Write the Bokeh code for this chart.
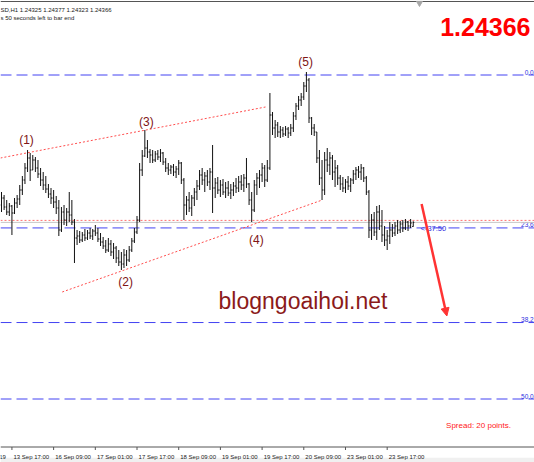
from bokeh.plotting import figure
from bokeh.models import ColumnDataSource, Range1d, Arrow, NormalHead
from bokeh.core.properties import value
from bokeh.embed import file_html
from bokeh.resources import INLINE

# ---------------- data (GBPUSD H1) ----------------
opens = [1.2454, 1.2461, 1.2452, 1.2447, 1.2453, 1.2446, 1.2456, 1.2460, 1.2469, 1.2479,
         1.2491, 1.2501, 1.2489, 1.2499, 1.2491, 1.2485, 1.2479, 1.2474, 1.2470, 1.2465,
         1.2461, 1.2457, 1.2451, 1.2429, 1.2447, 1.2439, 1.2447, 1.2444, 1.2437, 1.2421,
         1.2423, 1.2419, 1.2424, 1.2421, 1.2426, 1.2423, 1.2428, 1.2426, 1.2420, 1.2417,
         1.2413, 1.2409, 1.2415, 1.2407, 1.2411, 1.2401, 1.2397, 1.2395, 1.2404, 1.2399,
         1.2409, 1.2418, 1.2427, 1.2439, 1.2489, 1.2503, 1.2511, 1.2507, 1.2504, 1.2499,
         1.2505, 1.2502, 1.2506, 1.2497, 1.2491, 1.2489, 1.2492, 1.2487, 1.2490, 1.2496,
         1.2479, 1.2454, 1.2459, 1.2451, 1.2461, 1.2467, 1.2473, 1.2484, 1.2479, 1.2483,
         1.2477, 1.2487, 1.2471, 1.2476, 1.2469, 1.2474, 1.2467, 1.2471, 1.2466, 1.2469,
         1.2473, 1.2471, 1.2477, 1.2474, 1.2481, 1.2475, 1.2459, 1.2449, 1.2474, 1.2481,
         1.2484, 1.2491, 1.2479, 1.2491, 1.2544, 1.2531, 1.2534, 1.2527, 1.2529, 1.2525,
         1.2530, 1.2526, 1.2531, 1.2543, 1.2553, 1.2559, 1.2562, 1.2573, 1.2579, 1.2541,
         1.2531, 1.2527, 1.2501, 1.2481, 1.2469, 1.2499, 1.2494, 1.2501, 1.2487, 1.2491,
         1.2481, 1.2475, 1.2471, 1.2477, 1.2473, 1.2479, 1.2485, 1.2489, 1.2487, 1.2491,
         1.2481, 1.2467, 1.2429, 1.2439, 1.2427, 1.2447, 1.2433, 1.2424, 1.2419, 1.2423,
         1.2429, 1.2426, 1.2433, 1.2429, 1.2435, 1.2431, 1.2437, 1.2433, 1.24325]
highs = [1.2467, 1.2464, 1.2459, 1.2456, 1.2454, 1.2461, 1.2464, 1.2474, 1.2483, 1.2496,
         1.2509, 1.2506, 1.2504, 1.2502, 1.2499, 1.2491, 1.2487, 1.2483, 1.2475, 1.2471,
         1.2469, 1.2463, 1.2459, 1.2452, 1.2454, 1.2451, 1.2467, 1.2459, 1.2440, 1.2429,
         1.2428, 1.2427, 1.2430, 1.2429, 1.2431, 1.2430, 1.2434, 1.2431, 1.2426, 1.2422,
         1.2419, 1.2421, 1.2419, 1.2416, 1.2413, 1.2409, 1.2407, 1.2410, 1.2409, 1.2413,
         1.2421, 1.2431, 1.2443, 1.2496, 1.2509, 1.2529, 1.2519, 1.2510, 1.2509, 1.2508,
         1.2509, 1.2510, 1.2507, 1.2501, 1.2496, 1.2494, 1.2495, 1.2493, 1.2499, 1.2497,
         1.2481, 1.2463, 1.2467, 1.2464, 1.2471, 1.2479, 1.2489, 1.2491, 1.2487, 1.2489,
         1.2491, 1.2514, 1.2481, 1.2482, 1.2479, 1.2480, 1.2477, 1.2478, 1.2475, 1.2477,
         1.2481, 1.2483, 1.2484, 1.2485, 1.2501, 1.2476, 1.2467, 1.2479, 1.2486, 1.2489,
         1.2496, 1.2494, 1.2499, 1.2566, 1.2547, 1.2539, 1.2537, 1.2533, 1.2532, 1.2533,
         1.2532, 1.2535, 1.2547, 1.2556, 1.2563, 1.2566, 1.2577, 1.2587, 1.2581, 1.2542,
         1.2535, 1.2527, 1.2509, 1.2499, 1.2507, 1.2511, 1.2507, 1.2504, 1.2499, 1.2494,
         1.2484, 1.2482, 1.2480, 1.2483, 1.2481, 1.2489, 1.2492, 1.2493, 1.2495, 1.2492,
         1.2483, 1.2469, 1.2445, 1.2447, 1.2453, 1.2454, 1.2449, 1.2433, 1.2429, 1.2437,
         1.2435, 1.2437, 1.2439, 1.2438, 1.2439, 1.2440, 1.2438, 1.2440, 1.24377]
lows = [1.2447, 1.2449, 1.2444, 1.2443, 1.2424, 1.2445, 1.2451, 1.2454, 1.2464, 1.2475,
        1.2487, 1.2478, 1.2489, 1.2487, 1.2481, 1.2473, 1.2469, 1.2466, 1.2461, 1.2455,
        1.2451, 1.2445, 1.2423, 1.2427, 1.2434, 1.2433, 1.2437, 1.2434, 1.2396, 1.2414,
        1.2416, 1.2417, 1.2418, 1.2419, 1.2420, 1.2419, 1.2423, 1.2417, 1.2413, 1.2410,
        1.2406, 1.2407, 1.2403, 1.2400, 1.2396, 1.2393, 1.2389, 1.2391, 1.2393, 1.2397,
        1.2407, 1.2416, 1.2425, 1.2437, 1.2483, 1.2502, 1.2501, 1.2496, 1.2496, 1.2497,
        1.2499, 1.2497, 1.2494, 1.2487, 1.2484, 1.2485, 1.2483, 1.2481, 1.2484, 1.2475,
        1.2439, 1.2444, 1.2447, 1.2443, 1.2453, 1.2459, 1.2469, 1.2474, 1.2467, 1.2473,
        1.2469, 1.2446, 1.2461, 1.2465, 1.2462, 1.2464, 1.2461, 1.2463, 1.2460, 1.2463,
        1.2466, 1.2467, 1.2469, 1.2467, 1.2471, 1.2454, 1.2437, 1.2447, 1.2464, 1.2471,
        1.2477, 1.2472, 1.2477, 1.2489, 1.2524, 1.2521, 1.2522, 1.2521, 1.2522, 1.2523,
        1.2521, 1.2523, 1.2527, 1.2539, 1.2549, 1.2553, 1.2559, 1.2567, 1.2536, 1.2524,
        1.2523, 1.2496, 1.2474, 1.2459, 1.2464, 1.2487, 1.2484, 1.2479, 1.2472, 1.2474,
        1.2469, 1.2467, 1.2466, 1.2469, 1.2467, 1.2475, 1.2479, 1.2481, 1.2479, 1.2477,
        1.2464, 1.2421, 1.2419, 1.2423, 1.2419, 1.2429, 1.2417, 1.2413, 1.2409, 1.2415,
        1.2422, 1.2423, 1.2425, 1.2426, 1.2427, 1.2429, 1.2428, 1.2431, 1.24323]
closes = [1.2461, 1.2452, 1.2447, 1.2453, 1.2446, 1.2456, 1.2460, 1.2469, 1.2479, 1.2491,
          1.2501, 1.2489, 1.2499, 1.2491, 1.2485, 1.2479, 1.2474, 1.2470, 1.2465, 1.2461,
          1.2457, 1.2451, 1.2429, 1.2447, 1.2439, 1.2447, 1.2444, 1.2437, 1.2421, 1.2423,
          1.2419, 1.2424, 1.2421, 1.2426, 1.2423, 1.2428, 1.2426, 1.2420, 1.2417, 1.2413,
          1.2409, 1.2415, 1.2407, 1.2411, 1.2401, 1.2397, 1.2395, 1.2404, 1.2399, 1.2409,
          1.2418, 1.2427, 1.2439, 1.2489, 1.2503, 1.2511, 1.2507, 1.2504, 1.2499, 1.2505,
          1.2502, 1.2506, 1.2497, 1.2491, 1.2489, 1.2492, 1.2487, 1.2490, 1.2496, 1.2479,
          1.2454, 1.2459, 1.2451, 1.2461, 1.2467, 1.2473, 1.2484, 1.2479, 1.2483, 1.2477,
          1.2487, 1.2471, 1.2476, 1.2469, 1.2474, 1.2467, 1.2471, 1.2466, 1.2469, 1.2473,
          1.2471, 1.2477, 1.2474, 1.2481, 1.2475, 1.2459, 1.2449, 1.2474, 1.2481, 1.2484,
          1.2491, 1.2479, 1.2491, 1.2544, 1.2531, 1.2534, 1.2527, 1.2529, 1.2525, 1.2530,
          1.2526, 1.2531, 1.2543, 1.2553, 1.2559, 1.2562, 1.2573, 1.2579, 1.2541, 1.2531,
          1.2527, 1.2501, 1.2481, 1.2469, 1.2499, 1.2494, 1.2501, 1.2487, 1.2491, 1.2481,
          1.2475, 1.2471, 1.2477, 1.2473, 1.2479, 1.2485, 1.2489, 1.2487, 1.2491, 1.2481,
          1.2467, 1.2429, 1.2439, 1.2427, 1.2447, 1.2433, 1.2424, 1.2419, 1.2423, 1.2429,
          1.2426, 1.2433, 1.2429, 1.2435, 1.2431, 1.2437, 1.2433, 1.2436, 1.24366]

tick_index = [-12, 4, 20, 36, 52, 68, 84, 100, 116, 132, 148]
tick_labels = ["12 Sep 2019", "13 Sep 17:00", "16 Sep 09:00", "17 Sep 01:00", "17 Sep 17:00",
               "18 Sep 09:00", "19 Sep 01:00", "19 Sep 17:00", "20 Sep 09:00",
               "23 Sep 01:00", "23 Sep 17:00"]

fib_high = 1.2584
fib_low = 1.1936
fib_ratios = [0.0, 23.6, 38.2, 50.0]

bid = 1.24366
spread_points = 20
ask = bid + spread_points * 0.00001

upper_line_x = [-0.4, 101.3]
upper_line_y = [1.2501, 1.2552]
lower_line_x = [23.3, 123.1]
lower_line_y = [1.2367, 1.2459]

wave_labels = ["(1)", "(2)", "(3)", "(4)", "(5)"]
wave_x = [9.6, 47.6, 55.6, 97.8, 116.7]
wave_y = [1.2519, 1.2377, 1.2537, 1.2419, 1.2597]

arrow_x = [161.2, 170.9]
arrow_y = [1.2455, 1.2343]

header_1 = "SD,H1  1.24325 1.24377 1.24323 1.24366"
header_2 = "s 50 seconds left to bar end"
timer_text = "<-37:50"
spread_text = "Spread: 20 points."
watermark = "blogngoaihoi.net"

# ---------------- figure ----------------
X0, X1 = -0.384, 204.53
Y0, Y1 = 1.21965, 1.26585
p = figure(width=534, height=462, x_range=Range1d(X0, X1), y_range=Range1d(Y0, Y1),
           output_backend="svg", toolbar_location=None, x_axis_type=None, y_axis_type=None,
           min_border=0, min_border_left=0, min_border_right=0, min_border_top=0,
           min_border_bottom=0)
p.grid.visible = False
p.outline_line_color = None
p.background_fill_color = "white"
p.border_fill_color = "white"

FONT = value("Liberation Sans")

# bottom grey strip of the terminal window
p.quad(left=[X0], right=[X1], bottom=[Y0], top=[1.22012], fill_color="#f0f0f0", line_color=None)

# fibonacci levels
fib_levels = [fib_high - (fib_high - fib_low) * r / 100.0 for r in fib_ratios]
p.segment(x0=[X0] * len(fib_levels), y0=fib_levels, x1=[X1] * len(fib_levels), y1=fib_levels,
          line_color="#4343f2", line_width=1, line_dash="11 5")
p.text(x=[X1 - 0.3] * len(fib_levels), y=fib_levels, text=[f"{r:.1f}" for r in fib_ratios],
       text_font=FONT, text_font_size="6.5px", text_color="#3030e0",
       text_align="right", text_baseline="bottom", y_offset=-0.5)

# bid / ask lines
p.segment(x0=[X0], y0=[bid], x1=[X1], y1=[bid], line_color="#c8c8c8", line_width=1)
p.segment(x0=[X0], y0=[ask], x1=[X1], y1=[ask], line_color="#ff7070", line_width=1,
          line_dash="2 2")

# channel trend lines
p.line(upper_line_x, upper_line_y, line_color="#ff4d4d", line_width=1, line_dash="2 2")
p.line(lower_line_x, lower_line_y, line_color="#ff4d4d", line_width=1, line_dash="2 2")

# OHLC bars
idx = list(range(len(closes)))
src = ColumnDataSource(dict(x=idx, xl=[i - 0.4 for i in idx], xr=[i + 0.4 for i in idx],
                            o=opens, h=highs, l=lows, c=closes))
p.segment(x0="x", y0="l", x1="x", y1="h", source=src, line_color="#111111", line_width=1)
p.segment(x0="xl", y0="o", x1="x", y1="o", source=src, line_color="#111111", line_width=1)
p.segment(x0="x", y0="c", x1="xr", y1="c", source=src, line_color="#111111", line_width=1)

# wave labels
p.text(x=wave_x, y=wave_y, text=wave_labels, text_font=FONT, text_font_size="12px",
       text_color="#801515", text_align="center", text_baseline="middle")

# watermark
p.text(x=[83.3], y=[1.2358], text=[watermark], text_font=FONT, text_font_size="23px",
       text_color="#8b1a1a", text_align="left", text_baseline="middle")

# timer label
p.text(x=[160.8], y=[1.2431], text=[timer_text], text_font=FONT, text_font_size="7.5px",
       text_color="#3030e0", text_align="left", text_baseline="middle")

# forecast arrow
p.add_layout(Arrow(end=NormalHead(size=8, fill_color="#ff3333", line_color="#ff3333"),
                   x_start=arrow_x[0], y_start=arrow_y[0], x_end=arrow_x[1], y_end=arrow_y[1],
                   line_color="#ff3333", line_width=2.5))

# spread text
p.text(x=[170.6], y=[1.22333], text=[spread_text], text_font=FONT, text_font_size="8px",
       text_color="#ff2020", text_align="left", text_baseline="alphabetic")

# big price
p.text(x=[203.0], y=[1.26323], text=[f"{bid:.5f}"], text_font=FONT, text_font_size="25px",
       text_font_style="bold", text_color="#ff0000", text_align="right",
       text_baseline="alphabetic")

# header texts
p.text(x=[X0, X0], y=[1.26495, 1.26415], text=[header_1, header_2], text_font=FONT,
       text_font_size="6px", text_color="#222222", text_align="left",
       text_baseline="alphabetic")

# top border and shift marker
p.segment(x0=[X0], y0=[1.26575], x1=[X1], y1=[1.26575], line_color="#555555", line_width=1)
p.scatter(x=[160.4], y=[1.2656], marker="inverted_triangle", size=6, color="#a8a8a8")

# time axis (drawn through the data scales)
axis_y = 1.2212
p.segment(x0=[X0], y0=[axis_y], x1=[X1], y1=[axis_y], line_color="#555555", line_width=1)
p.segment(x0=tick_index, y0=[axis_y] * len(tick_index), x1=tick_index,
          y1=[axis_y - 0.0003] * len(tick_index), line_color="#555555", line_width=1)
p.text(x=[t + 0.6 for t in tick_index], y=[1.22025] * len(tick_index), text=tick_labels,
       text_font=FONT, text_font_size="6px", text_color="#222222", text_align="left",
       text_baseline="alphabetic")

open("out.html", "w").write(file_html(p, INLINE))
